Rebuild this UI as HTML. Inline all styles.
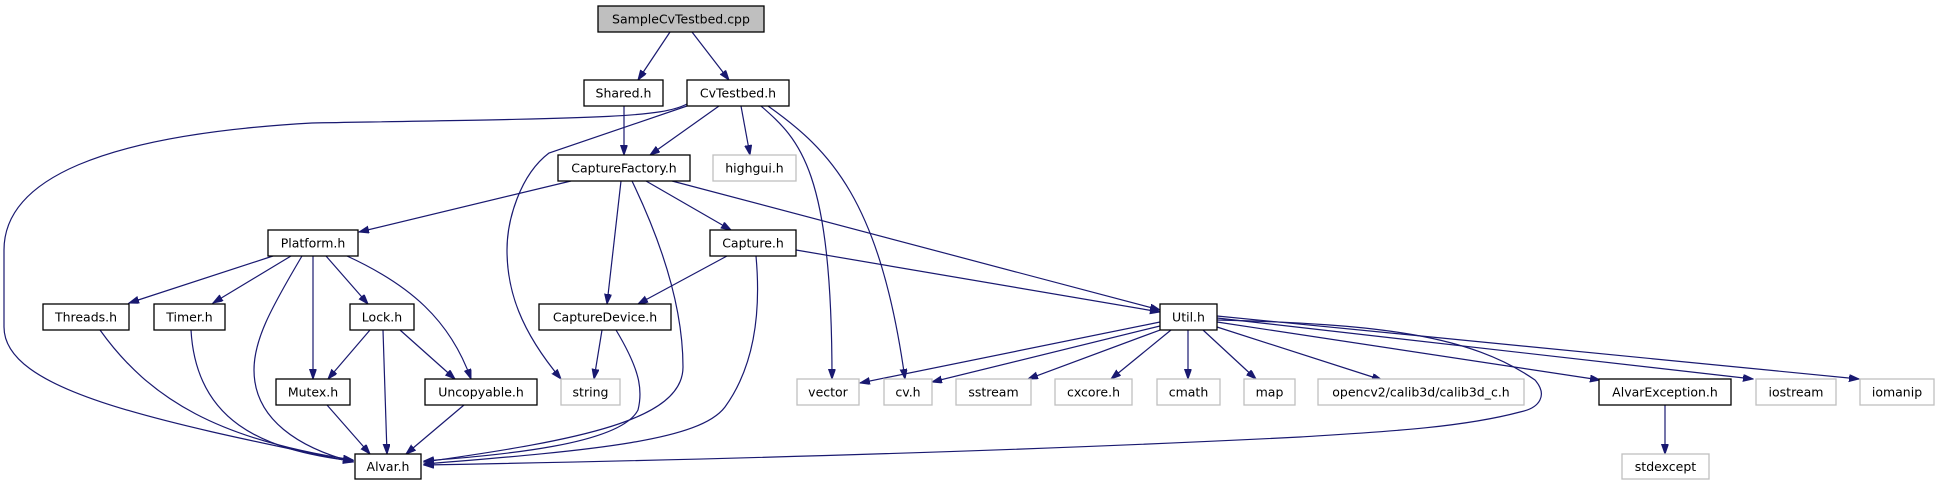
<!DOCTYPE html>
<html><head><meta charset="utf-8"><style>
html,body{margin:0;padding:0;background:#fff;}
svg{display:block;}
text{font-family:"DejaVu Sans","Liberation Sans",sans-serif;font-size:12.5px;fill:#000;text-anchor:middle;}
.n{fill:#fff;stroke:#000;stroke-width:1.3;}
.g{fill:#fff;stroke:#bfbfbf;stroke-width:1.3;}
.e{fill:none;stroke:#191970;stroke-width:1.2;marker-end:url(#a);}
</style></head><body>
<svg width="1940" height="485" viewBox="0 0 1940 485" xmlns="http://www.w3.org/2000/svg">
<defs><marker id="a" markerUnits="userSpaceOnUse" markerWidth="11" markerHeight="8" refX="10" refY="3.5" orient="auto"><path d="M0,0 L10,3.5 L0,7 z" fill="#191970" stroke="#191970"/></marker></defs>

<g>
<path class="e" d="M670,32 L638,80"/>
<path class="e" d="M692,32 L729,80"/>
<path class="e" d="M624,106 L624,155"/>
<path class="e" d="M719,106 L650,155"/>
<path class="e" d="M741,106 L750,155"/>
<path class="e" d="M761,106 C800,140 832,170 832,379"/>
<path class="e" d="M768,106 C830,150 880,200 905,379"/>
<path class="e" d="M687,106 L549,153 C520,175 507,220 507,250 C507,290 520,330 561,379"/>
<path class="e" d="M687,104 C660,118 600,118 312,123 C100,135 4,180 4,250 L4,327 C4,390 150,420 353,462"/>
<path class="e" d="M571,181 L359,232"/>
<path class="e" d="M621,181 L607,304"/>
<path class="e" d="M632,181 C670,260 683,320 683,367 C683,420 580,440 424,462"/>
<path class="e" d="M646,181 L731,230"/>
<path class="e" d="M672,181 L1160,310"/>
<path class="e" d="M727,256 L638,304"/>
<path class="e" d="M796,250 L1160,312"/>
<path class="e" d="M756,256 C760,300 759,360 725,407 C700,440 600,450 424,464"/>
<path class="e" d="M273,256 L129,303"/>
<path class="e" d="M291,256 L213,303"/>
<path class="e" d="M302,256 C270,310 254,340 254,370 C254,420 300,448 353,462"/>
<path class="e" d="M313,256 L313,379"/>
<path class="e" d="M326,256 L368,304"/>
<path class="e" d="M347,256 C410,285 450,320 471,379"/>
<path class="e" d="M100,330 C150,400 220,440 353,460"/>
<path class="e" d="M191,330 C196,420 260,450 353,461"/>
<path class="e" d="M370,330 L328,379"/>
<path class="e" d="M383,330 L387,454"/>
<path class="e" d="M400,330 L455,379"/>
<path class="e" d="M327,405 L370,454"/>
<path class="e" d="M464,405 L406,454"/>
<path class="e" d="M602,330 L594,379"/>
<path class="e" d="M616,330 C640,370 643,390 638,410 C620,445 500,455 424,461"/>
<path class="e" d="M1160,322 L860,383"/>
<path class="e" d="M1160,326 L932,382"/>
<path class="e" d="M1160,330 L1028,379"/>
<path class="e" d="M1171,330 L1111,379"/>
<path class="e" d="M1188,330 L1188,379"/>
<path class="e" d="M1203,330 L1256,379"/>
<path class="e" d="M1217,327 L1382,380"/>
<path class="e" d="M1217,322 L1600,380"/>
<path class="e" d="M1217,318 L1753,379"/>
<path class="e" d="M1217,316 L1859,379"/>
<path class="e" d="M1217,320 C1380,324 1470,335 1535,380 C1548,395 1540,408 1520,412 C1460,428 1380,432 1300,437 C1000,452 700,460 424,465"/>
<path class="e" d="M1665,405 L1665,454"/>
</g>

<rect x="598" y="6" width="166" height="26" fill="#bfbfbf" stroke="#000" stroke-width="1.3"/><text x="681" y="23.5">SampleCvTestbed.cpp</text>
<rect class="n" x="584" y="80" width="79" height="26"/><text x="623.5" y="97.5">Shared.h</text>
<rect class="n" x="687" y="80" width="102" height="26"/><text x="738" y="97.5">CvTestbed.h</text>
<rect class="n" x="558" y="155" width="132" height="26"/><text x="624" y="172.5">CaptureFactory.h</text>
<rect class="g" x="713" y="155" width="83" height="26"/><text x="754.5" y="172.5">highgui.h</text>
<rect class="n" x="268" y="230" width="90" height="26"/><text x="313" y="247.5">Platform.h</text>
<rect class="n" x="710" y="230" width="86" height="26"/><text x="753" y="247.5">Capture.h</text>
<rect class="n" x="43" y="304" width="86" height="26"/><text x="86" y="321.5">Threads.h</text>
<rect class="n" x="154" y="304" width="71" height="26"/><text x="189.5" y="321.5">Timer.h</text>
<rect class="n" x="350" y="304" width="64" height="26"/><text x="382" y="321.5">Lock.h</text>
<rect class="n" x="539" y="304" width="132" height="26"/><text x="605" y="321.5">CaptureDevice.h</text>
<rect class="n" x="1160" y="304" width="57" height="26"/><text x="1188.5" y="321.5">Util.h</text>
<rect class="n" x="276" y="379" width="74" height="26"/><text x="313" y="396.5">Mutex.h</text>
<rect class="n" x="425" y="379" width="112" height="26"/><text x="481" y="396.5">Uncopyable.h</text>
<rect class="g" x="561" y="379" width="59" height="26"/><text x="590.5" y="396.5">string</text>
<rect class="g" x="797" y="379" width="62" height="26"/><text x="828" y="396.5">vector</text>
<rect class="g" x="884" y="379" width="48" height="26"/><text x="908" y="396.5">cv.h</text>
<rect class="g" x="956" y="379" width="75" height="26"/><text x="993.5" y="396.5">sstream</text>
<rect class="g" x="1055" y="379" width="77" height="26"/><text x="1093.5" y="396.5">cxcore.h</text>
<rect class="g" x="1157" y="379" width="63" height="26"/><text x="1188.5" y="396.5">cmath</text>
<rect class="g" x="1244" y="379" width="51" height="26"/><text x="1269.5" y="396.5">map</text>
<rect class="g" x="1318" y="379" width="206" height="26"/><text x="1421" y="396.5">opencv2/calib3d/calib3d_c.h</text>
<rect class="n" x="1599" y="379" width="132" height="26"/><text x="1665" y="396.5">AlvarException.h</text>
<rect class="g" x="1756" y="379" width="80" height="26"/><text x="1796" y="396.5">iostream</text>
<rect class="g" x="1860" y="379" width="74" height="26"/><text x="1897" y="396.5">iomanip</text>
<rect class="n" x="355" y="454" width="66" height="25"/><text x="388" y="471">Alvar.h</text>
<rect class="g" x="1622" y="454" width="87" height="25"/><text x="1665.5" y="471">stdexcept</text>
</svg>
</body></html>
